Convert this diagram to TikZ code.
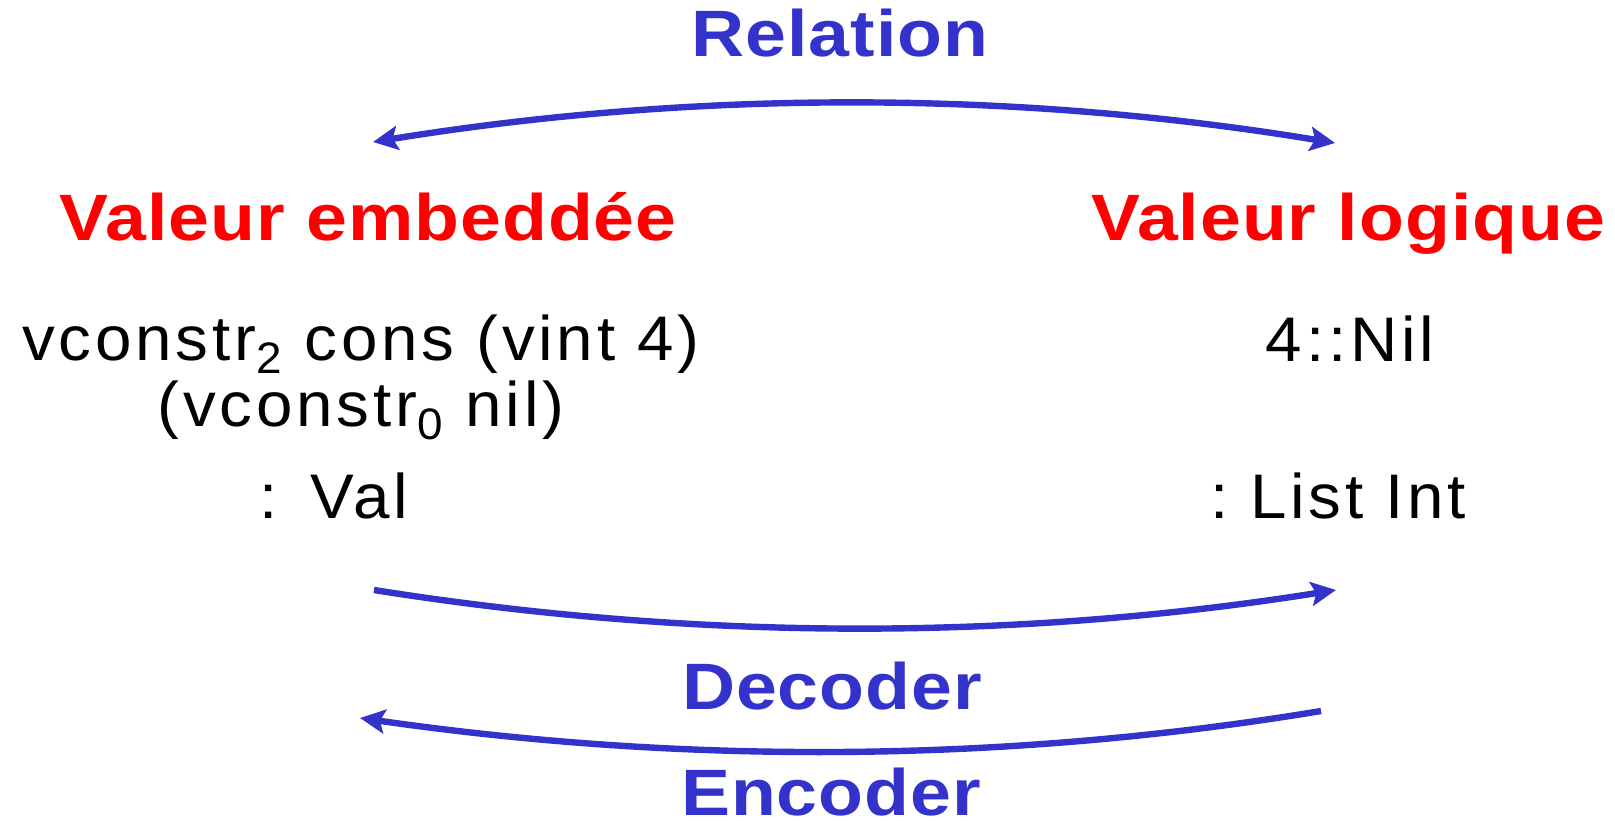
\documentclass[tikz,border=0pt]{standalone}
\usepackage{fontspec}
\usepackage{tikz}
\usetikzlibrary{arrows.meta}
\newfontfamily\headfont{Liberation Sans}[FakeStretch=1.12,LetterSpace=1.5]
\newfontfamily\termfont{Liberation Sans}[FakeStretch=1.04,LetterSpace=6]
\definecolor{relblue}{HTML}{3333CC}
\definecolor{valred}{HTML}{FF0000}

\begin{document}
\begin{tikzpicture}[
  x=0.5pt,y=-0.5pt,
  heading/.style={font=\headfont\bfseries\fontsize{32.8}{36}\selectfont,anchor=base,inner sep=0pt},
  fname/.style={heading,text=relblue},
  kind/.style={heading,text=valred},
  term/.style={font=\termfont\fontsize{31.5}{33}\selectfont,anchor=base,inner sep=0pt,align=center},
  link/.style={draw=relblue,line width=3.2pt},
  tip/.tip={Stealth[length=12.5pt,width=12pt,inset=2.5pt]},
]
\useasboundingbox (0,0) rectangle (1615,828);

% column headings
\node[fname] (relation) at (840,57) {Relation};
\node[kind] (embedded) at (368,241) {Valeur embedd\'ee};
\node[kind] (logical) at (1348,241) {Valeur logique};

% embedded value and its type
\node[term] (vcons) at (361,426) {vconstr\textsubscript{2} cons (vint 4)\\(vconstr\textsubscript{0} nil)};
\node[term] (valtype) at (334,518) {:\ \,Val};

% logical value and its type
\node[term] (list) at (1350,362) {4::Nil};
\node[term] (listtype) at (1338,518) {:\ List Int};

% arrow ends
\coordinate (relL) at (373,142);
\coordinate (relR) at (1335,143);
\coordinate (decL) at (374,590);
\coordinate (decR) at (1336,590);
\coordinate (encR) at (1321,711);
\coordinate (encL) at (360,718);

\draw[link,tip-tip] (relL) .. controls (694,90) and (1014,90) .. (relR);
\draw[link,-tip] (decL) .. controls (695,641) and (1015,641) .. (decR);
\draw[link,-tip] (encR) .. controls (1001,764) and (680,764) .. (encL);

\node[fname] (decoder) at (832,709) {Decoder};
\node[fname] (encoder) at (831,815) {Encoder};
\end{tikzpicture}
\end{document}
